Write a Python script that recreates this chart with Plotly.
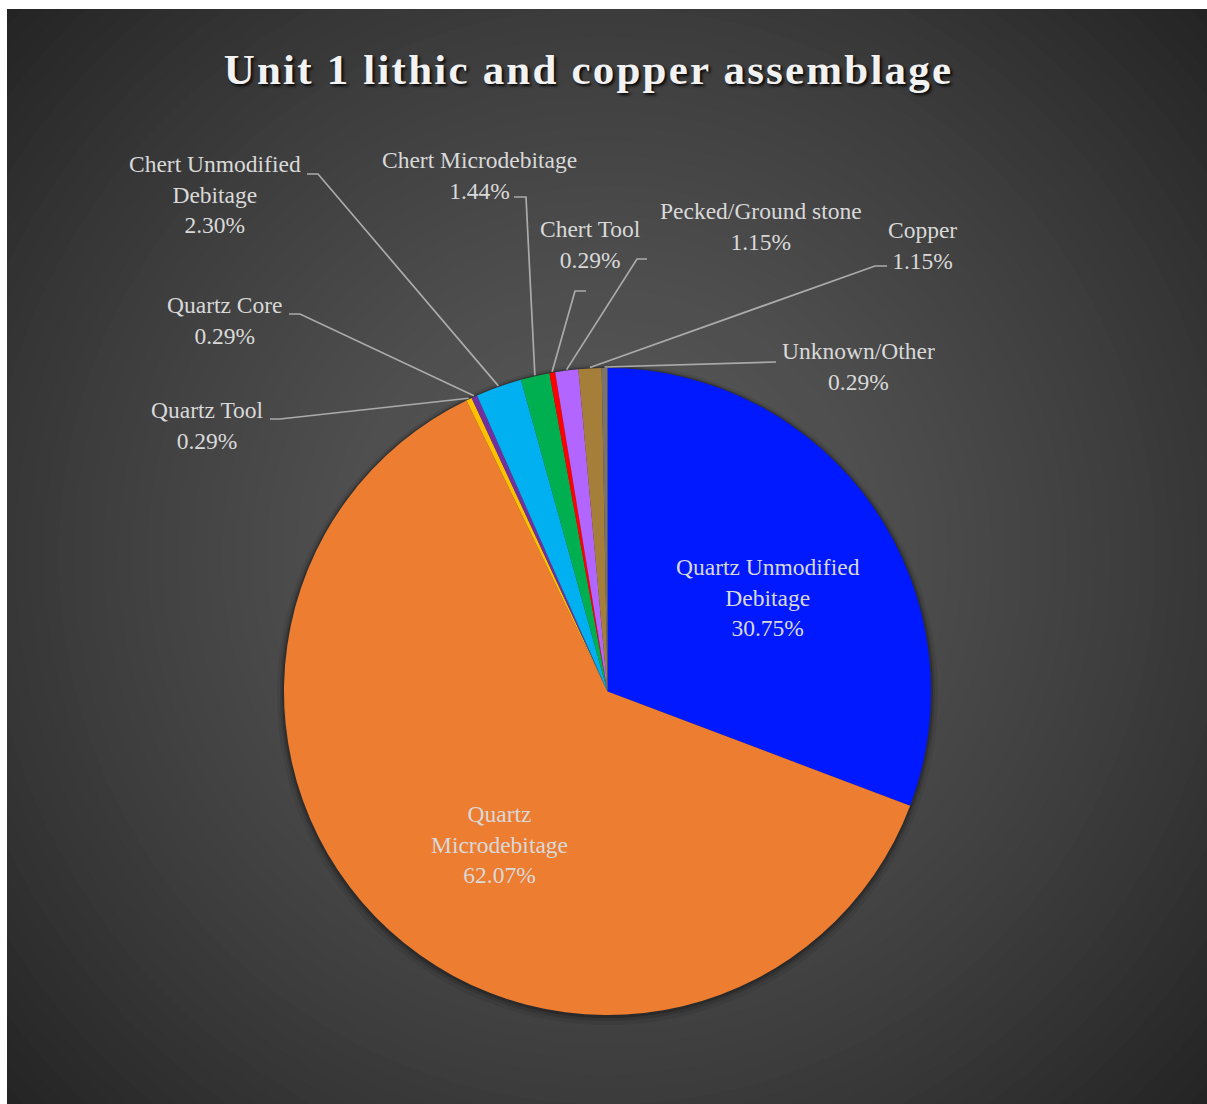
import math
import plotly.graph_objects as go

# ---------------- data ----------------
categories = [
    "Quartz Unmodified Debitage", "Quartz Microdebitage", "Quartz Tool", "Quartz Core",
    "Chert Unmodified Debitage", "Chert Microdebitage", "Chert Tool",
    "Pecked/Ground stone", "Copper", "Unknown/Other",
]
counts = [107, 216, 1, 1, 8, 5, 1, 4, 4, 1]
colors = ["#0019FF", "#ED7D31", "#FFC000", "#7030A0", "#00B0F0",
          "#00B050", "#FF0000", "#B266FF", "#A57F3A", "#7A736B"]
title_text = "Unit 1 lithic and copper assemblage"

# ---------------- layout constants (pixels) ----------------
W, H = 1207, 1104
PL, PT = 7, 9                      # white strip left / top
PW, PH = W - PL, H - PT
CX, CY, R = 607.5, 691.5, 323.5    # pie centre & radius
GX, GY = 607, 556                  # background gradient centre

wrap = {
    "Quartz Unmodified Debitage": "Quartz Unmodified<br>Debitage",
    "Quartz Microdebitage": "Quartz<br>Microdebitage",
    "Chert Unmodified Debitage": "Chert Unmodified<br>Debitage",
}
label_pos = {
    "Quartz Unmodified Debitage": (768, 597),
    "Quartz Microdebitage": (499, 844),
    "Quartz Tool": (207, 425),
    "Quartz Core": (225, 320),
    "Chert Unmodified Debitage": (215, 194),
    "Chert Microdebitage": (479, 175),
    "Chert Tool": (590, 244),
    "Pecked/Ground stone": (761, 226),
    "Copper": (922, 245),
    "Unknown/Other": (858, 366),
}
leader = {  # elbow point, stub end
    "Quartz Tool": ((280, 419), (270, 419)),
    "Quartz Core": ((300, 314), (289, 314)),
    "Chert Unmodified Debitage": ((318, 174), (307, 174)),
    "Chert Microdebitage": ((526, 197), (514, 197)),
    "Chert Tool": ((575, 291), (586, 291)),
    "Pecked/Ground stone": ((637, 259), (647, 259)),
    "Copper": ((875, 266), (887, 266)),
    "Unknown/Other": ((765, 362), (776, 362)),
}

total = sum(counts)
pcts = [c / total * 100 for c in counts]

fig = go.Figure()

# background radial gradient (banded, like the original)
shapes = []
RMAX = 830
N = 56
for i in range(N):
    Ri = RMAX * (1 - i / N)
    t = (Ri - RMAX / N / 2) / RMAX
    v = int(round(88 - 54 * max(t, 0) ** 1.5))
    shapes.append(dict(type="circle", xref="x", yref="y", layer="below",
                       x0=GX - Ri, x1=GX + Ri, y0=GY - Ri, y1=GY + Ri,
                       fillcolor=f"rgb({v},{v},{v})", line=dict(width=0)))
# soft pie shadow
for dr, dy, a in [(7, 3, 0.07), (4, 2, 0.12), (2, 1, 0.2)]:
    shapes.append(dict(type="circle", xref="x", yref="y", layer="below",
                       x0=CX - R - dr, x1=CX + R + dr, y0=CY + dy - R - dr, y1=CY + dy + R + dr,
                       fillcolor=f"rgba(0,0,0,{a})", line=dict(width=0)))

# leader lines computed from slice mid-angles
lx, ly = [], []
cum = 0
mids = {}
for cat, c in zip(categories, counts):
    mids[cat] = (cum + c / 2) / total * 360
    cum += c
for cat, (elbow, stub) in leader.items():
    th = math.radians(mids[cat])
    sx = CX + (R + 1) * math.sin(th)
    sy = CY - (R + 1) * math.cos(th)
    lx += [sx, elbow[0], stub[0], None]
    ly += [sy, elbow[1], stub[1], None]
fig.add_trace(go.Scatter(x=lx, y=ly, mode="lines", hoverinfo="skip", showlegend=False,
                         line=dict(color="#ABABAB", width=1.7)))

fig.add_trace(go.Pie(
    labels=categories, values=counts, sort=False, direction="clockwise", rotation=0,
    marker=dict(colors=colors, line=dict(width=0)),
    textinfo="none", hoverinfo="label+percent", showlegend=False,
    domain=dict(x=[(CX - R - PL) / PW, (CX + R - PL) / PW],
                y=[(H - CY - R) / PH, (H - CY + R) / PH]),
))

annotations = []
for cat, p in zip(categories, pcts):
    x, y = label_pos[cat]
    annotations.append(dict(
        x=x, y=y, xref="x", yref="y", showarrow=False, align="center",
        xanchor="center", yanchor="middle",
        text=f"{wrap.get(cat, cat)}<br>{p:.2f}%",
        font=dict(family="Liberation Serif, Times New Roman, serif", size=23.5, color="#D9D9D9"),
    ))

fig.update_layout(
    width=W, height=H, autosize=False,
    margin=dict(l=PL, t=PT, r=0, b=0, pad=0),
    paper_bgcolor="white", plot_bgcolor="#222222",
    xaxis=dict(range=[PL, W], visible=False, fixedrange=True),
    yaxis=dict(range=[H, PT], visible=False, fixedrange=True),
    shapes=shapes, annotations=annotations,
    title=dict(
        text=f'<span style="letter-spacing:2.2px">{title_text}</span>',
        x=588.5 / W, xref="container", xanchor="center",
        y=1 - 69 / H, yref="container", yanchor="middle",
        font=dict(family="Liberation Serif, Times New Roman, serif", size=43,
                  weight="bold", color="#F2F2F2",
                  shadow="2px 2px 3px rgba(0,0,0,0.9)"),
    ),
)

fig.write_html("out.html")
